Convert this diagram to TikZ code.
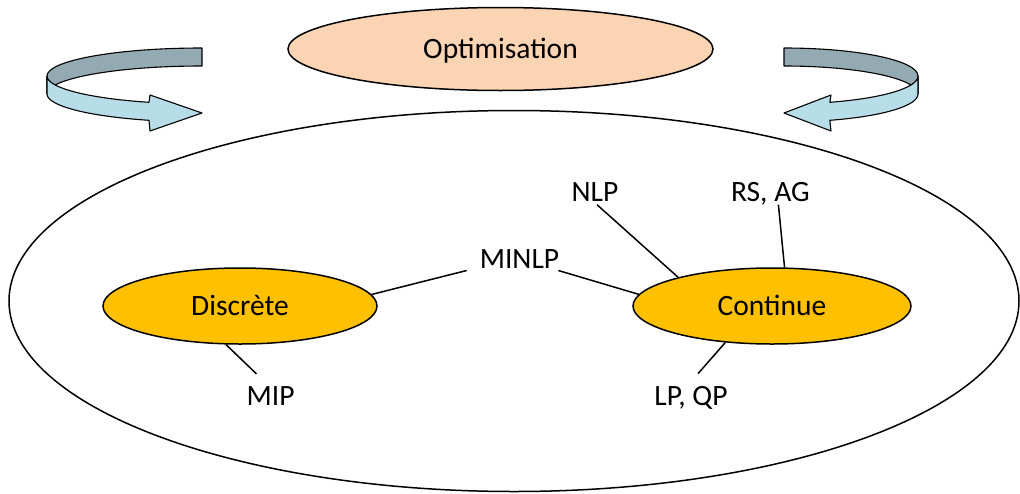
\documentclass[tikz,border=0pt]{standalone}
\usepackage{fontspec}
\setmainfont{Carlito}
\usetikzlibrary{shapes.geometric}
\definecolor{peach}{HTML}{FBD4B4}
\definecolor{gold}{HTML}{FFC000}
\definecolor{bandback}{HTML}{93AAB3}
\definecolor{bandfront}{HTML}{B7DDE8}
\begin{document}
\begin{tikzpicture}[x=1pt,y=-1pt,
  font=\fontsize{29.5}{34}\selectfont,
  oval/.style={ellipse, draw, line width=1.5pt, inner sep=0pt, text height=18pt, text depth=0pt},
  lbl/.style={inner sep=0pt, anchor=base},
  link/.style={line width=1.5pt},
  ribbon/.style={draw=black, line width=1.1pt, line join=round}]
\useasboundingbox (0,0) rectangle (1020,493);

% big ellipse
\node[oval, minimum width=1010pt, minimum height=381pt] (world) at (514,301) {};

% Optimisation
\node[oval, fill=peach, minimum width=425pt, minimum height=83pt] (opt) at (500.5,49) {Optimisation};

% left ribbon arrow
\path[ribbon, fill=bandback] (202,48) arc[start angle=270, end angle=180, x radius=155, y radius=28]
  -- ++(0,18) arc[start angle=180, end angle=270, x radius=155, y radius=28] -- cycle;
\path[ribbon, fill=bandfront] (47,76) arc[start angle=180, end angle=110, x radius=155, y radius=28]
  -- (150,95) -- (202,113) -- (150,131) -- (148.99,120.31)
  arc[start angle=110, end angle=180, x radius=155, y radius=28] -- cycle;

% right ribbon arrow
\path[ribbon, fill=bandback] (784,48) arc[start angle=270, end angle=360, x radius=134, y radius=28]
  -- ++(0,18) arc[start angle=0, end angle=-90, x radius=134, y radius=28] -- cycle;
\path[ribbon, fill=bandfront] (918,76) arc[start angle=0, end angle=70, x radius=134, y radius=28]
  -- (831,95) -- (784,113) -- (831,131) -- (829.83,120.31)
  arc[start angle=70, end angle=0, x radius=134, y radius=28] -- cycle;

% inner ellipses
\node[oval, fill=gold, minimum width=274pt, minimum height=76pt] (disc) at (240,306) {Discrète};
\node[oval, fill=gold, minimum width=278pt, minimum height=76pt] (cont) at (772,306) {Continue};

% labels
\node[lbl] (minlp) at (519.5,268.5) {MINLP};
\node[lbl] (nlp) at (595,201.7) {NLP};
\node[lbl] (rsag) at (770.4,201.7) {RS, AG};
\node[lbl] (mip) at (270.6,405) {MIP};
\node[lbl] (lpqp) at (691,405) {LP, QP};

% connectors
\draw[link] (disc.5) -- ([xshift=-13pt,yshift=-2pt]minlp.base west);
\draw[link] ([xshift=-1pt,yshift=-2pt]minlp.base east) -- (cont.175);
\draw[link] ([xshift=2pt,yshift=-3pt]nlp.base) -- (cont.163);
\draw[link] ([xshift=8pt,yshift=-3pt]rsag.base) -- (cont.72);
\draw[link] (disc.250) -- ([xshift=10pt,yshift=12pt]mip.north west);
\draw[link] (cont.218) -- ([xshift=7pt,yshift=12pt]lpqp.north);
\end{tikzpicture}
\end{document}
